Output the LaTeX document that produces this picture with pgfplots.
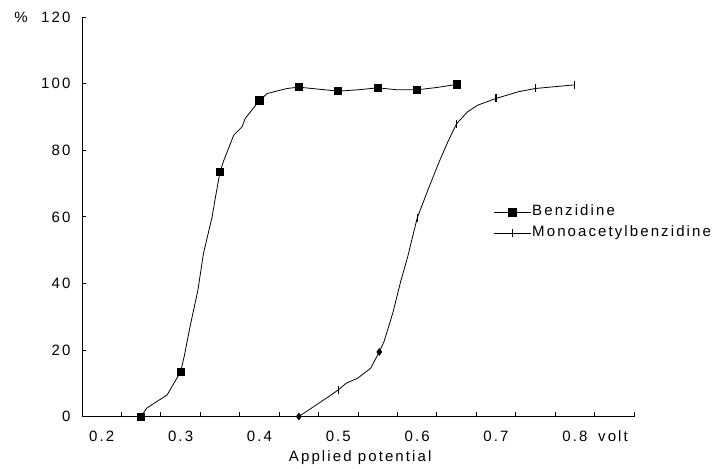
\documentclass[border=0pt]{standalone}
\usepackage{fontspec}
\setmainfont{Liberation Sans}[LetterSpace=14]
\usepackage{pgfplots}
\pgfplotsset{compat=1.18}

\newcommand{\chartfont}{\fontsize{15}{17}\selectfont}

\pgfplotstableread{
x      y
0.250  0.0
0.257  2.5
0.283  6.5
0.2955 11.6
0.300  13.3
0.305  18.5
0.312  27.0
0.322  38.0
0.329  49.0
0.340  60.0
0.344  65.6
0.350  73.5
0.355  77.1
0.3675 84.6
0.378  87.1
0.382  89.6
0.400  95.0
0.410  97.1
0.435  98.6
0.450  99.0
0.475  98.4
0.500  97.8
0.525  98.2
0.550  98.8
0.575  98.2
0.600  98.2
0.625  98.9
0.650  99.8
}\benzidine

\pgfplotstableread{
x      y
0.450  0.0
0.488  6.0
0.500  8.0
0.510  10.0
0.5245 11.5
0.541  14.5
0.552  19.4
0.558  22.5
0.569  31.0
0.5796 41.0
0.588  48.0
0.600  59.6
0.6135 68.0
0.628  76.6
0.639  82.6
0.650  88.0
0.664  91.6
0.677  93.6
0.700  95.6
0.728  97.6
0.750  98.6
0.800  99.7
}\monoacetyl

\begin{document}
\begin{tikzpicture}[x=1pt,y=1pt]
\useasboundingbox (0,0) rectangle (727,468);
\begin{axis}[
    at={(82pt,51.5pt)}, anchor=south west,
    width=552pt, height=399.2pt, scale only axis,
    xmin=0.175, xmax=0.875,
    ymin=0, ymax=120,
    axis x line=bottom, axis y line=left,
    axis line style={-, line width=0.8pt},
    xtick={0.2,0.3,0.4,0.5,0.6,0.7,0.8},
    xticklabels={0.2,0.3,0.4,0.5,0.6,0.7,0.8},
    minor xtick={0.225,0.275,0.325,0.375,0.425,0.475,0.525,0.575,0.625,0.675,0.725,0.775,0.825,0.875},
    ytick={0,20,40,60,80,100,120},
    tick align=inside,
    major tick length=4pt, minor tick length=4pt,
    major x tick style={draw=none},
    tick style={line width=0.8pt, black},
    tick label style={font=\chartfont},
    xticklabel style={yshift=-11pt},
    yticklabel style={xshift=-8pt},
    /pgf/number format/assume math mode=true,
    xlabel={Applied potential},
    xlabel style={font=\chartfont, at={(axis description cs:0.504,-0.104)}, anchor=center},
    clip=false,
    legend cell align=left,
    legend style={draw=none, fill=none, font=\chartfont,
        at={(axis description cs:0.745,0.485)}, anchor=west,
        inner sep=0pt, row sep=4pt,
        nodes={inner sep=1pt, text height=11pt, text depth=4pt}},
    legend image code/.code={
        \draw[mark indices={2}] plot coordinates {(0pt,0pt) (18.5pt,0pt) (37pt,0pt)};},
]
\addplot[black, line width=0.8pt, mark=square*, mark size=3.6pt,
    mark indices={1,5,12,17,20,22,24,26,28}] table[x=x, y=y] {\benzidine};
\addlegendentry{Benzidine}
\addplot[black, line width=0.8pt, mark=|, mark size=4pt,
    mark options={line width=1.2pt},
    mark indices={3,12,16,19,21,22}] table[x=x, y=y] {\monoacetyl};
\addlegendentry{Monoacetylbenzidine}
\addplot[black, only marks, mark=diamond*, mark size=3.5pt, forget plot] coordinates {(0.45,0) (0.552,19.4)};
\node[font=\chartfont, anchor=north, yshift=-11pt] at (axis description cs:0.962,0) {volt};
\node[font=\chartfont, anchor=east, inner sep=0pt] at (axis description cs:-0.0978,1) {\%};
\end{axis}
\end{tikzpicture}
\end{document}
